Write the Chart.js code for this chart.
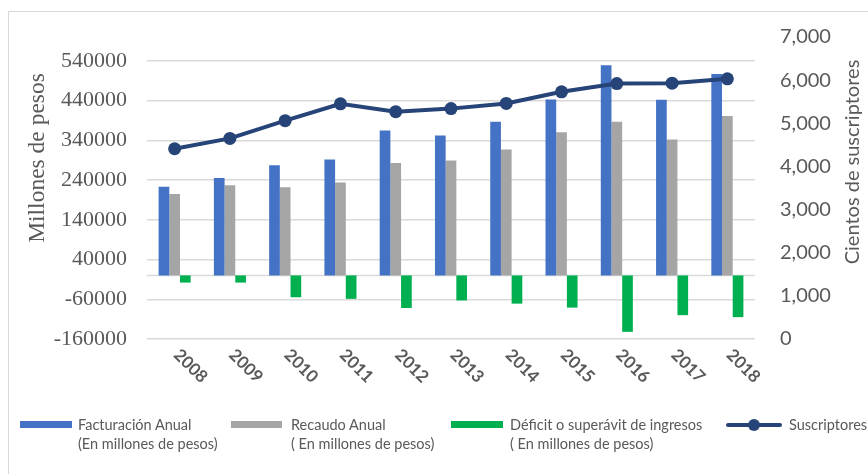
<!DOCTYPE html>
<html>
<head>
<meta charset="utf-8">
<script src="https://cdn.jsdelivr.net/npm/chart.js@4/dist/chart.umd.min.js"></script>
<style>
    html, body { margin: 0; padding: 0; background: #fff; overflow: hidden; }
    #frame { position: absolute; left: 8px; top: 11px; width: 900px; height: 500px; border: 1px solid #d9d9d9; }
    #chart { position: absolute; left: 0; top: 0; }
    .lg { position: absolute; font-family: Lato, sans-serif; font-size: 14.5px; color: #595959; line-height: 19px; white-space: nowrap; }
    .sw { position: absolute; height: 7px; }
</style>
</head>
<body>
<div id="frame"></div>
<canvas id="chart" width="868" height="474"></canvas>
<div id="legend"></div>
<script>
var years = ['2008', '2009', '2010', '2011', '2012', '2013', '2014', '2015', '2016', '2017', '2018'];
var facturacion = [223000, 245000, 277000, 292000, 365000, 352000, 387000, 443000, 529000, 442000, 507000];
var recaudo = [205000, 227000, 222000, 234000, 283000, 289000, 317000, 360000, 387000, 342000, 401000];
var deficit = [-18000, -18000, -55000, -59000, -82000, -63000, -71000, -81000, -142000, -100000, -105000];
var suscriptores = [4410, 4650, 5060, 5450, 5270, 5340, 5460, 5730, 5920, 5930, 6030];

var leftTicks = [-160000, -60000, 40000, 140000, 240000, 340000, 440000, 540000];
var leftTitle = 'Millones de pesos';
var rightTitle = 'Cientos de suscriptores';

var legendItems = [
    { color: '#4472C4', line1: 'Facturación Anual', line2: '(En millones de pesos)' },
    { color: '#A5A5A5', line1: 'Recaudo Anual', line2: '( En millones de pesos)' },
    { color: '#00B050', line1: 'Déficit o superávit de ingresos', line2: '( En millones de pesos)' },
    { color: '#264478', line1: 'Suscriptores', line2: '', line: true }
];

var textColor = '#595959';

// zero line + titles + slanted year labels
var extrasPlugin = {
    id: 'extras',
    beforeDatasetsDraw: function(chart) {
        var ctx = chart.ctx;
        var area = chart.chartArea;
        var y0 = chart.scales.y.getPixelForValue(0);
        ctx.save();
        ctx.strokeStyle = '#d9d9d9';
        ctx.lineWidth = 1.5;
        ctx.beginPath();
        ctx.moveTo(area.left, y0);
        ctx.lineTo(area.right, y0);
        ctx.stroke();
        ctx.restore();
    },
    afterDraw: function(chart) {
        var ctx = chart.ctx;
        var xScale = chart.scales.x;
        ctx.save();
        ctx.fillStyle = textColor;

        ctx.font = 'bold 17px Lato, sans-serif';
        ctx.textAlign = 'center';
        ctx.textBaseline = 'middle';
        years.forEach(function(label, i) {
            var x = xScale.getPixelForValue(i);
            ctx.save();
            ctx.translate(x + 16, 366);
            ctx.rotate(Math.PI / 4);
            ctx.fillText(label, 0, 0);
            ctx.restore();
        });

        ctx.save();
        ctx.font = '23.5px "Liberation Serif", serif';
        ctx.translate(38, 158);
        ctx.rotate(-Math.PI / 2);
        ctx.fillText(leftTitle, 0, 0);
        ctx.restore();

        ctx.save();
        ctx.font = '20px Lato, sans-serif';
        ctx.translate(853, 162);
        ctx.rotate(-Math.PI / 2);
        ctx.fillText(rightTitle, 0, 0);
        ctx.restore();

        ctx.restore();
    }
};

var canvas = document.getElementById('chart');

new Chart(canvas, {
    data: {
        labels: years,
        datasets: [
            {
                type: 'line',
                label: 'Suscriptores',
                data: suscriptores,
                yAxisID: 'y1',
                borderColor: '#264478',
                backgroundColor: '#264478',
                borderWidth: 4,
                pointRadius: 6.5,
                pointBackgroundColor: '#264478',
                pointBorderWidth: 0,
                tension: 0,
                order: 0
            },
            {
                type: 'bar',
                label: 'Facturación Anual',
                data: facturacion,
                yAxisID: 'y',
                backgroundColor: '#4472C4',
                order: 1
            },
            {
                type: 'bar',
                label: 'Recaudo Anual',
                data: recaudo,
                yAxisID: 'y',
                backgroundColor: '#A5A5A5',
                order: 1
            },
            {
                type: 'bar',
                label: 'Déficit o superávit de ingresos',
                data: deficit,
                yAxisID: 'y',
                backgroundColor: '#00B050',
                order: 1
            }
        ]
    },
    options: {
        responsive: false,
        animation: false,
        datasets: {
            bar: { categoryPercentage: 0.58, barPercentage: 1.0 }
        },
        layout: { padding: { top: 35, left: 0, right: 0, bottom: 0 } },
        plugins: {
            legend: { display: false },
            tooltip: { enabled: false }
        },
        scales: {
            x: {
                grid: { display: false },
                border: { display: false },
                ticks: { display: false },
                afterFit: function(scale) { scale.height = 135; }
            },
            y: {
                position: 'left',
                min: -160000,
                max: 600000,
                afterBuildTicks: function(scale) {
                    scale.ticks = leftTicks.map(function(v) { return { value: v }; });
                },
                afterFit: function(scale) { scale.width = 147; },
                grid: { color: '#d9d9d9', lineWidth: 1.5, drawTicks: false },
                border: { display: false },
                ticks: {
                    padding: 20,
                    color: textColor,
                    font: { family: '"Liberation Serif", serif', size: 22 },
                    callback: function(v) { return String(v); }
                }
            },
            y1: {
                position: 'right',
                min: 0,
                max: 7000,
                afterFit: function(scale) { scale.width = 113; },
                grid: { display: false, drawTicks: false },
                border: { display: false },
                ticks: {
                    stepSize: 1000,
                    padding: 25,
                    color: textColor,
                    font: { family: 'Lato, sans-serif', size: 20 },
                    callback: function(v) { return v.toLocaleString('en-US'); }
                }
            }
        }
    },
    plugins: [extrasPlugin]
});

// legend (two-line labels, like the original)
var legendPos = [
    { sx: 20, sw: 52, tx: 78 },
    { sx: 231, sw: 51, tx: 291 },
    { sx: 451, sw: 52, tx: 510 },
    { sx: 726, sw: 56, tx: 789 }
];
var legend = document.getElementById('legend');
legendItems.forEach(function(item, i) {
    var p = legendPos[i];
    var sw = document.createElement('div');
    sw.className = 'sw';
    sw.style.left = p.sx + 'px';
    sw.style.width = p.sw + 'px';
    sw.style.background = item.color;
    if (item.line) {
        sw.style.top = '423px';
        sw.style.height = '4px';
        sw.style.borderRadius = '2px';
        var dot = document.createElement('div');
        dot.style.cssText = 'position:absolute;left:' + (p.sx + p.sw / 2 - 6) + 'px;top:419px;width:12px;height:12px;border-radius:6px;background:' + item.color;
        legend.appendChild(dot);
    } else {
        sw.style.top = '421px';
    }
    legend.appendChild(sw);
    var t = document.createElement('div');
    t.className = 'lg';
    t.style.left = p.tx + 'px';
    t.style.top = '415px';
    t.innerHTML = item.line1 + (item.line2 ? '<br>' + item.line2 : '');
    legend.appendChild(t);
});
</script>
</body>
</html>
